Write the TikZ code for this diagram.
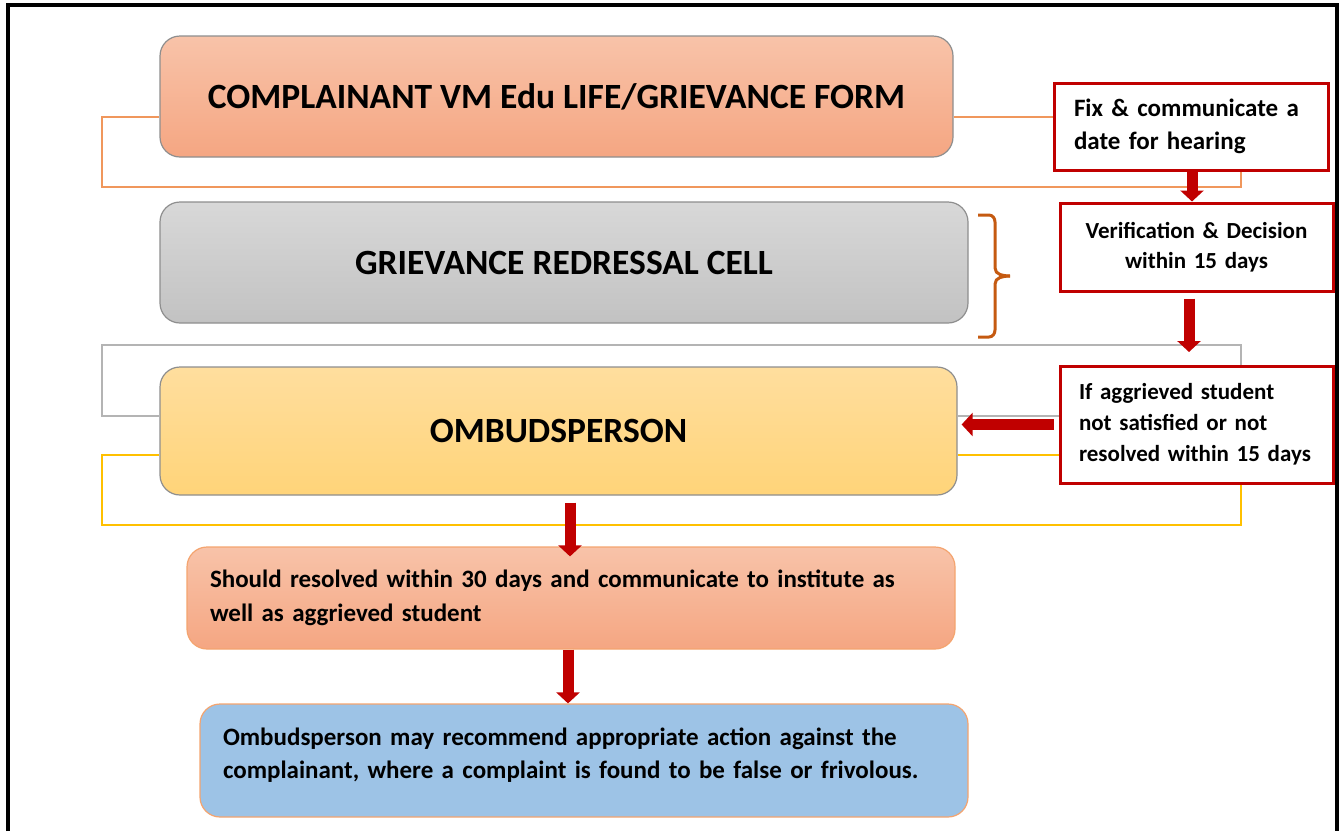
\documentclass[tikz,border=0pt]{standalone}
\usepackage{fontspec}
\setmainfont{Carlito}
\usetikzlibrary{arrows.meta}

\definecolor{redline}{HTML}{C00000}
\definecolor{stageline}{HTML}{8E8E8E}
\definecolor{formtop}{HTML}{F8C3A9}
\definecolor{formbot}{HTML}{F5A682}
\definecolor{celltop}{HTML}{D8D8D8}
\definecolor{cellbot}{HTML}{C2C2C2}
\definecolor{ombtop}{HTML}{FFDE9E}
\definecolor{ombbot}{HTML}{FFD479}
\definecolor{recblue}{HTML}{9DC3E6}
\definecolor{outline}{HTML}{F4A46F}
\definecolor{linkorange}{HTML}{F0975C}
\definecolor{linkgray}{HTML}{B4B4B4}
\definecolor{linkyellow}{HTML}{FFC000}
\definecolor{bracecol}{HTML}{C55A11}

\begin{document}
\begin{tikzpicture}[
    x=1pt, y=-1pt,
    stage/.style={rounded corners=20pt, draw=stageline, line width=1.2pt,
        minimum height=121pt, inner sep=0pt,
        font=\fontsize{35.5}{42}\selectfont\bfseries},
    outcome/.style={rounded corners=20pt, draw=outline, line width=1.2pt,
        inner xsep=23pt, inner ysep=0pt, align=left,
        font=\fontsize{25}{34}\selectfont\bfseries},
    note/.style={draw=redline, line width=3pt, fill=white,
        inner ysep=0pt, align=left},
    link/.style={line width=1.4pt},
    bigarrow/.style={draw=redline, line width=11pt,
        -{Triangle[width=23pt, length=11pt]}},
    brace/.style={draw=bracecol, line width=3pt}
]
    \useasboundingbox (0,0) rectangle (1341,831);
    % outer frame
    \draw[line width=4pt] (8,831) |- (1337,5) -- (1337,831);

    % main stages
    \node[stage, top color=formtop, bottom color=formbot, minimum width=793pt]
        (form) at (556.5,96.5) {COMPLAINANT VM Edu LIFE/GRIEVANCE FORM};
    \node[stage, top color=celltop, bottom color=cellbot, minimum width=808pt]
        (cell) at (564,262.5) {GRIEVANCE REDRESSAL CELL};
    \node[stage, top color=ombtop, bottom color=ombbot, minimum width=797pt,
        minimum height=128pt] (ombud) at (558.5,431) {OMBUDSPERSON};
    \node[outcome, top color=formtop, bottom color=formbot, text width=722pt,
        minimum height=102pt] (resolve) at (571,598)
        {Should resolved within 30 days and communicate to institute as\\well as aggrieved student};
    \node[outcome, fill=recblue, text width=722pt, minimum height=113pt,
        text depth=48pt, font=\fontsize{25}{33}\selectfont\bfseries] (recommend) at (584,760.5)
        {Ombudsperson may recommend appropriate action against the\\complainant, where a complaint is found to be false or frivolous.};

    % side notes
    \node[note, text width=234pt, inner xsep=20pt, minimum height=87pt,
        font=\fontsize{25}{33}\selectfont\bfseries] (fix) at (1191,126.5)
        {Fix \& communicate a\\date for hearing};
    \node[note, align=center, text width=253pt, inner xsep=10pt, minimum height=88pt,
        font=\fontsize{23}{30}\selectfont\bfseries] (verify) at (1196.5,247)
        {Verification \& Decision\\within 15 days};
    \node[note, text width=235pt, inner xsep=19pt, minimum height=117pt,
        font=\fontsize{23}{31}\selectfont\bfseries] (aggrieved) at (1196.5,424.5)
        {If aggrieved student\\not satisfied or not\\resolved within 15 days};

    % elbow links
    \draw[link, linkorange] (form.west |- 0,117) -| (102,187) -| (fix.south -| 1241,0);
    \draw[link, linkorange] (form.east |- 0,117) -- (fix.west |- 0,117);
    \draw[link, linkgray] (ombud.west |- 0,416) -| (102,345) -| (aggrieved.north -| 1241,0);
    \draw[link, linkgray] (ombud.east |- 0,416) -- (aggrieved.west |- 0,416);
    \draw[link, linkyellow] (ombud.west |- 0,455) -| (102,525) -| (aggrieved.south -| 1241,0);
    \draw[link, linkyellow] (ombud.east |- 0,455) -- (aggrieved.west |- 0,455);

    % brace beside the cell
    \draw[brace] (978,215) -- (989,215) to[out=0, in=90] (995,222) -- (995,268)
        to[out=-90, in=180] (1010,276);
    \draw[brace] (978,337) -- (989,337) to[out=0, in=-90] (995,330) -- (995,284)
        to[out=90, in=180] (1010,276);

    % arrows
    \coordinate (vend) at (1189,352);
    \draw[bigarrow] (fix.south -| 1192,0) -- (verify.north -| 1192,0);
    \draw[bigarrow, shorten <=6pt] (verify.south -| vend) -- (vend);
    \draw[bigarrow, shorten <=5pt, shorten >=4pt] (aggrieved.west) -- (aggrieved.west -| ombud.east);
    \draw[bigarrow, shorten <=7pt, shorten >=-10pt] (ombud.south -| 570,0) -- (resolve.north -| 570,0);
    \draw[bigarrow] (resolve.south -| 568,0) -- (recommend.north -| 568,0);
\end{tikzpicture}
\end{document}
